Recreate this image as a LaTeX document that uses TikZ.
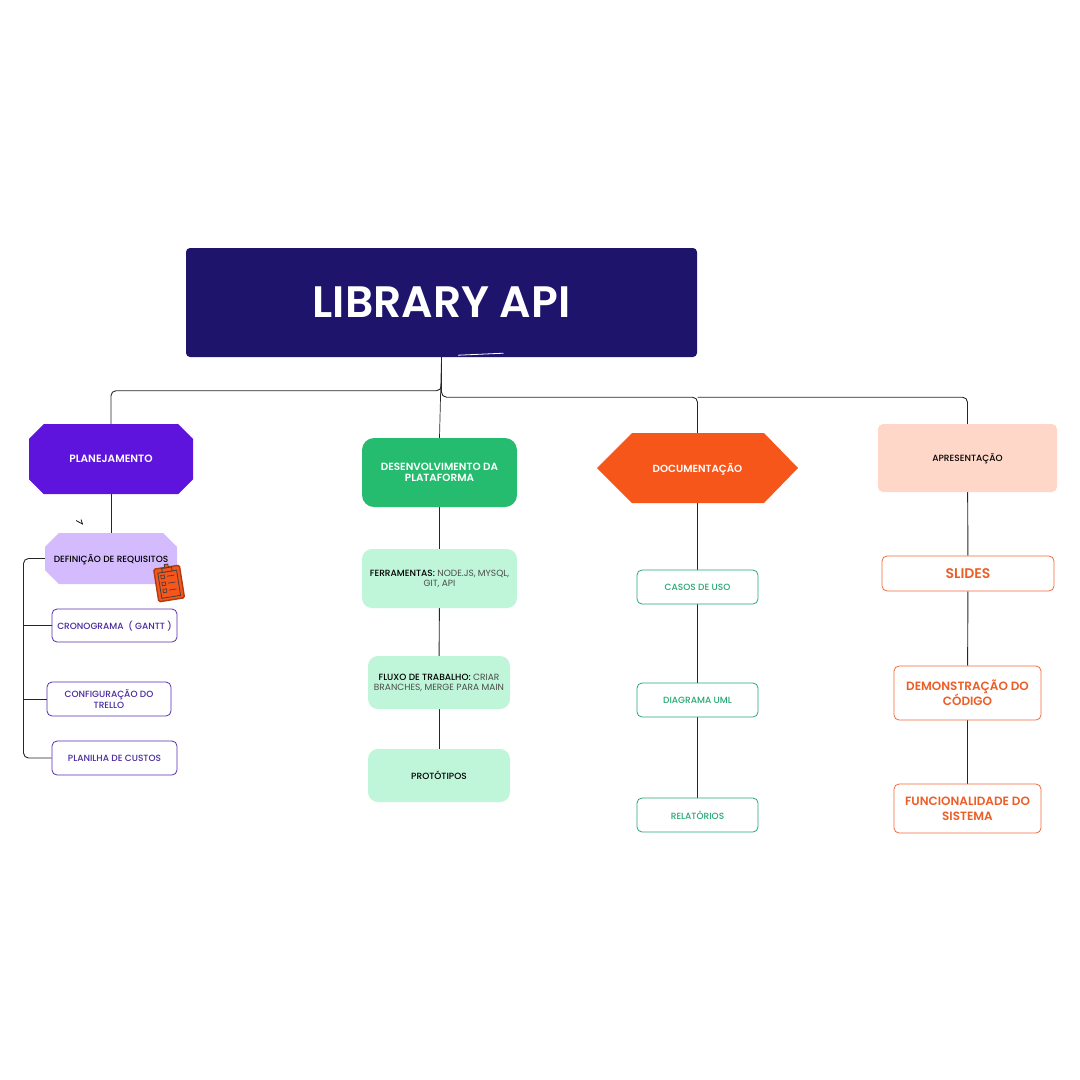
\documentclass[tikz,border=0pt]{standalone}
\usepackage{fontspec}
\setmainfont{Poppins}
\newfontfamily\pmed{Poppins Medium}
\newfontfamily\psemi{Poppins SemiBold}
\usetikzlibrary{shapes.misc,backgrounds,calc}
\definecolor{navy}{HTML}{1F146B}
\definecolor{purp}{HTML}{5E14DC}
\definecolor{lilac}{HTML}{D3BBFE}
\definecolor{purpline}{HTML}{5A2DB0}
\definecolor{purptext}{HTML}{4A2A9E}
\definecolor{grn}{HTML}{25BC6F}
\definecolor{mint}{HTML}{BFF5D9}
\definecolor{grnline}{HTML}{25A874}
\definecolor{org}{HTML}{F7561B}
\definecolor{orgtext}{HTML}{EC5E28}
\definecolor{peach}{HTML}{FFD7C9}
\definecolor{orgline}{HTML}{EE6A3A}
\newcommand{\fs}[1]{\fontsize{#1}{#1}\selectfont\lineskiplimit=-100pt\relax}
\tikzset{
  x=1pt,y=-1pt,
  base/.style={inner sep=0pt,align=center,text depth=0pt},
  roundbox/.style={base,rectangle,rounded corners=#1},
  link/.style={draw=black!85,line width=0.9pt,rounded corners=5pt},
  purpbox/.style={roundbox=5pt,draw=purpline,line width=0.8pt,fill=white,text=purptext,font=\pmed\fs{9}},
  grnbox/.style={roundbox=5pt,draw=grnline,line width=0.8pt,fill=white,text=grnline,font=\pmed\fs{9}},
  orgbox/.style={roundbox=5pt,draw=orgline,line width=0.8pt,fill=white,text=orgtext,font=\psemi\fs{12}},
  mintbox/.style={roundbox=10pt,fill=mint,text=black!70,font=\fs{9}},
}
\newcommand{\bx}[7][]{\node[#2,minimum width=#5-#3,minimum height=#6-#4,#1] (#7) at ({(#3+#5)/2},{(#4+#6)/2})}
\begin{document}
\begin{tikzpicture}
\useasboundingbox (0,0) rectangle (1080,1080);

\bx{roundbox=4pt,fill=navy,text=white,font=\psemi\fs{44}}{186}{248}{697}{357}{title} {LIBRARY API};
\draw[white,line width=0.8pt] ($(title.south)+(16.5,-2)$) -- ($(title.south)+(62,-4)$);

\bx{base,chamfered rectangle,chamfered rectangle xsep=11pt,chamfered rectangle ysep=11pt,fill=purp,text=white,font=\psemi\fs{10.6}}{29}{424}{193}{494}{plan} {PLANEJAMENTO};
\bx{base,chamfered rectangle,chamfered rectangle xsep=10pt,chamfered rectangle ysep=10pt,fill=lilac,text=black,font=\pmed\fs{9}}{45}{533}{177}{584}{req} {DEFINIÇÃO DE REQUISITOS};
\bx{purpbox}{52}{609}{177}{642}{crono} {CRONOGRAMA \ ( GANTT )};
\bx{purpbox}{47}{682}{171}{716}{config} {CONFIGURAÇÃO DO\\[1.5pt]TRELLO};
\bx{purpbox}{52}{741}{177}{775}{custos} {PLANILHA DE CUSTOS};

\bx{roundbox=12pt,fill=grn,text=white,font=\psemi\fs{10.4}}{362}{438}{517}{507}{dev} {DESENVOLVIMENTO DA\\[1.2pt]PLATAFORMA};
\bx{mintbox}{362}{549}{517}{608}{ferr} {{\pmed\color{black}FERRAMENTAS:} NODE.JS, MYSQL,\\[1pt]GIT, API};
\bx{mintbox}{368}{656}{510}{709}{fluxo} {{\pmed\color{black}FLUXO DE TRABALHO:} CRIAR\\[1pt]BRANCHES, MERGE PARA MAIN};
\bx{mintbox,text=black,font=\pmed\fs{9}}{368}{749}{510}{802}{proto} {PROTÓTIPOS};

\fill[org] (597,468) -- (632,433) -- (764,433) -- (798,468) -- (764,503) -- (632,503) -- cycle;
\bx{base,text=white,font=\psemi\fs{10.3}}{597}{433}{798}{503}{doc} {DOCUMENTAÇÃO};
\bx{grnbox}{637}{570}{758}{604}{casos} {CASOS DE USO};
\bx{grnbox}{637}{683}{758}{717}{uml} {DIAGRAMA UML};
\bx{grnbox}{637}{798}{758}{832}{rel} {RELATÓRIOS};

\bx{roundbox=5pt,fill=peach,text=black,font=\pmed\fs{9}}{878}{424}{1057}{492}{apres} {APRESENTAÇÃO};
\bx{orgbox,font=\psemi\fs{14}}{882}{556}{1054}{591}{slides} {SLIDES};
\bx{orgbox}{894}{666}{1041}{720}{demo} {DEMONSTRAÇÃO DO\\[3pt]CÓDIGO};
\bx{orgbox}{894}{784}{1041}{833}{func} {FUNCIONALIDADE DO\\[3pt]SISTEMA};

% stray tick
\coordinate (tick) at (82.5,524);
\draw[black,line width=0.7pt] (76,520.5) -- (tick) -- (81,519.5);

\begin{scope}[on background layer]
\coordinate (bus) at (23.5,0);
\draw[link] (title.south) -- ($(title.south)+(0,33.5)$) -- ++(-330.5,0) -- (plan.north);
\draw[link] (title.south) -- ($(title.south)+(0,40)$) -- ++(256,0) -- (doc.north);
\draw[link] ($(title.south)+(256,40)$) -- ++(270,0) -- (apres.north);
\draw[link,line width=0.7pt] (title.south) -- (dev.north);
\draw[link] (plan.south) -- (plan.south |- req.north);
\draw[link] (req.west) -- (bus |- req.west) -- (bus |- custos.west) -- (custos.west);
\draw[link] (crono.west) -- (bus |- crono.west);
\draw[link] (config.west) -- (bus |- config.west);
\draw[link] (dev) -- (ferr);
\draw[link] (ferr) -- (fluxo);
\draw[link] (fluxo) -- (proto);
\draw[link] (doc) -- (casos);
\draw[link] (casos) -- (uml);
\draw[link] (uml) -- (rel);
\draw[link] (apres) -- (slides);
\draw[link] (slides) -- (demo);
\draw[link] (demo) -- (func);
\end{scope}

% clipboard icon
\begin{scope}[shift={(169,583)},rotate=9]
\draw[org!70!black,fill=org,line width=1.4pt,rounded corners=1.5pt] (-13,-16) rectangle (13,17);
\draw[black!75,line width=0.8pt] (-9.5,-11.5) rectangle (9.5,14);
\draw[black!75,fill=org,line width=0.8pt] (-5,-15.5) rectangle (5,-11.5);
\draw[black!75,fill=org,line width=0.8pt] (-1.8,-19) rectangle (1.8,-15.5);
\foreach \yy in {-7,0,7}{
  \draw[black!75,line width=0.7pt] (-7,\yy-1.7) rectangle (-3.5,\yy+1.7);
  \draw[black!75,line width=0.7pt] (-1,\yy) -- (6.5,\yy);
}
\end{scope}
\end{tikzpicture}
\end{document}
